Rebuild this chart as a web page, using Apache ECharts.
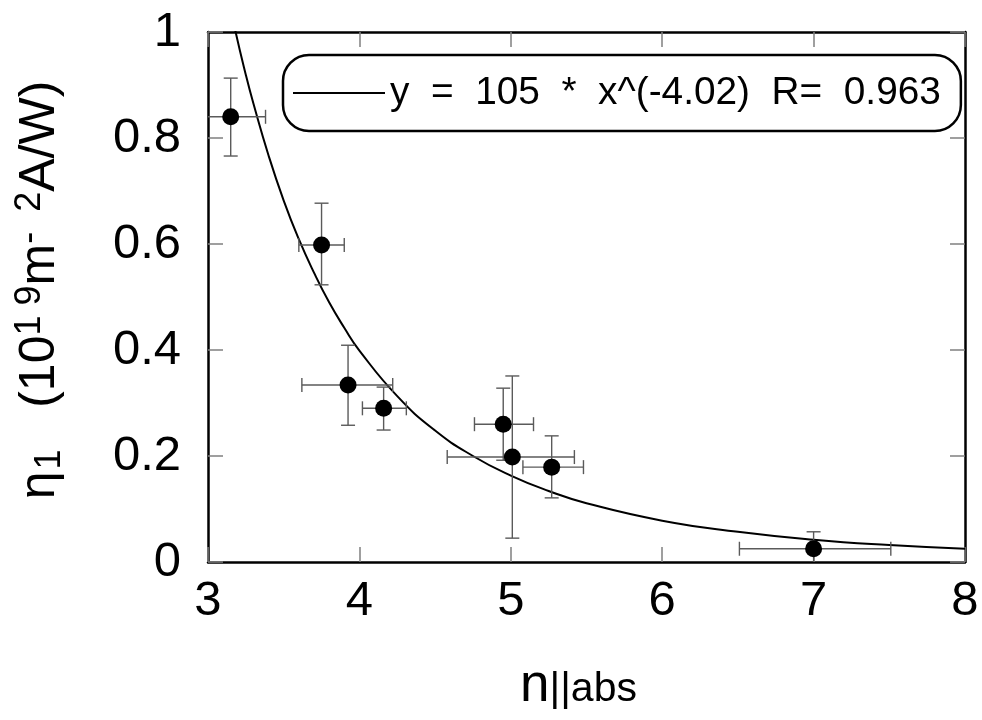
<!DOCTYPE html>
<html>
<head>
<meta charset="utf-8">
<script src="https://cdn.jsdelivr.net/npm/echarts@6/dist/echarts.min.js"></script>
<style>
  html, body { margin: 0; padding: 0; background: #fff; }
  #chart { width: 982px; height: 720px; }
</style>
</head>
<body>
<div id="chart"></div>
<script>
// measured points with error bars
var nAbs  = [3.15, 3.75, 3.925, 4.16, 4.95, 5.01, 5.27, 7.00];
var eta1  = [0.840, 0.598, 0.334, 0.290, 0.260, 0.198, 0.179, 0.025];
var xLow  = [2.92, 3.60, 3.62, 4.02, 4.76, 4.58, 5.08, 6.51];
var xHigh = [3.38, 3.90, 4.22, 4.31, 5.15, 5.42, 5.48, 7.51];
var yLow  = [0.766, 0.523, 0.258, 0.249, 0.192, 0.045, 0.121, -0.010];
var yHigh = [0.913, 0.677, 0.409, 0.330, 0.328, 0.351, 0.238, 0.057];

// fitted curve
var fitX = [3.10, 3.18, 3.25, 3.30, 3.40, 3.50, 3.60, 3.70, 3.80, 3.90, 4.00, 4.25, 4.50, 4.75, 5.00, 5.25, 5.50, 6.00, 6.50, 7.00, 7.50, 8.00];
var fitY = [1.110, 1.003, 0.919, 0.865, 0.767, 0.682, 0.609, 0.546, 0.490, 0.442, 0.399, 0.313, 0.248, 0.200, 0.163, 0.134, 0.111, 0.078, 0.057, 0.042, 0.032, 0.025];

var fitName = 'y  =  105  *  x^(-4.02)  R=  0.963';
var xTicks = [3, 4, 5, 6, 7, 8];
var yTicks = [0, 0.2, 0.4, 0.6, 0.8, 1];

var font = 'Liberation Sans';
var tickGrey = '#808080';

var fitData = fitX.map(function(x, i) { return [x, fitY[i]]; });
var pointData = nAbs.map(function(x, i) { return [x, eta1[i]]; });
var errData = nAbs.map(function(x, i) {
    return [x, eta1[i], xLow[i], xHigh[i], yLow[i], yHigh[i]];
});

function renderErr(params, api) {
    var c = api.coord([api.value(0), api.value(1)]);
    var l = api.coord([api.value(2), api.value(1)]);
    var r = api.coord([api.value(3), api.value(1)]);
    var b = api.coord([api.value(0), api.value(4)]);
    var t = api.coord([api.value(0), api.value(5)]);
    var cap = 7;
    var style = { stroke: '#5a5a5a', lineWidth: 1.4 };
    var seg = function(x1, y1, x2, y2) {
        return { type: 'line', shape: { x1: x1, y1: y1, x2: x2, y2: y2 }, style: style };
    };
    return {
        type: 'group',
        children: [
            seg(l[0], c[1], r[0], c[1]),
            seg(l[0], c[1] - cap, l[0], c[1] + cap),
            seg(r[0], c[1] - cap, r[0], c[1] + cap),
            seg(c[0], b[1], c[0], t[1]),
            seg(c[0] - cap, b[1], c[0] + cap, b[1]),
            seg(c[0] - cap, t[1], c[0] + cap, t[1])
        ]
    };
}

function xAxisCfg(pos, labels) {
    return {
        type: 'value', position: pos, min: xTicks[0], max: xTicks[xTicks.length - 1], interval: 1,
        axisLine: { show: true, onZero: false, lineStyle: { color: '#000', width: 2.5 } },
        axisTick: { show: true, inside: true, length: 15, lineStyle: { color: tickGrey, width: 1.5 } },
        axisLabel: { show: labels, color: '#000', fontSize: 49, fontFamily: font, margin: 15 },
        splitLine: { show: false }
    };
}

function yAxisCfg(pos, labels) {
    return {
        type: 'value', position: pos, min: yTicks[0], max: yTicks[yTicks.length - 1], interval: 0.2,
        axisLine: { show: true, onZero: false, lineStyle: { color: '#000', width: 2.5 } },
        axisTick: { show: true, inside: true, length: 15, lineStyle: { color: tickGrey, width: 1.5 } },
        axisLabel: { show: labels, color: '#000', fontSize: 49, fontFamily: font, margin: 27 },
        splitLine: { show: false }
    };
}

var xBottom = xAxisCfg('bottom', true);
xBottom.name = '{n|n}{s|||abs}';
xBottom.nameLocation = 'middle';
xBottom.nameGap = 98;
xBottom.nameTextStyle = {
    color: '#000', fontFamily: font, padding: [0, 16, 0, 0],
    rich: {
        n: { fontSize: 53, fontFamily: font, color: '#000', verticalAlign: 'top', lineHeight: 50 },
        s: { fontSize: 41, fontFamily: font, color: '#000', verticalAlign: 'bottom', lineHeight: 40, padding: [26, 0, 0, 0] }
    }
};

var yLeft = yAxisCfg('left', true);
yLeft.name = '{a|η}{sub|1}{a|   (10}{sup|1 9}{a|m}{sup|-  2}{a|A/W)}';
yLeft.nameLocation = 'middle';
yLeft.nameGap = 140;
yLeft.nameTextStyle = {
    color: '#000', fontFamily: font, padding: [0, 0, 0, 14],
    rich: {
        a: { fontSize: 50, fontFamily: font, color: '#000', lineHeight: 56 },
        sub: { fontSize: 36, fontFamily: font, color: '#000', verticalAlign: 'bottom', lineHeight: 36, padding: [18, 0, 0, 2] },
        sup: { fontSize: 36, fontFamily: font, color: '#000', verticalAlign: 'top', lineHeight: 36, padding: [0, 0, 14, 0] }
    }
};

var chart = echarts.init(document.getElementById('chart'));
chart.setOption({
    animation: false,
    backgroundColor: '#fff',
    grid: { left: 208, right: 17, top: 32, bottom: 158 },
    legend: {
        data: [{ name: fitName, icon: 'rect', itemStyle: { color: '#000' } }],
        left: 283, top: 55,
        orient: 'horizontal',
        itemWidth: 92, itemHeight: 2, itemGap: 10,
        padding: [16, 20, 16, 10],
        borderColor: '#000', borderWidth: 2.5, borderRadius: 26,
        backgroundColor: '#fff',
        textStyle: { fontSize: 38.8, fontFamily: font, color: '#000', lineHeight: 44 }
    },
    xAxis: [xBottom, xAxisCfg('top', false)],
    yAxis: [yLeft, yAxisCfg('right', false)],
    series: [
        {
            name: fitName, type: 'line', data: fitData, smooth: true, symbol: 'none',
            lineStyle: { color: '#000', width: 2 }, itemStyle: { color: '#000' }, z: 2
        },
        {
            type: 'custom', data: errData, renderItem: renderErr, clip: true, z: 3
        },
        {
            type: 'scatter', data: pointData, symbolSize: 17, itemStyle: { color: '#000', opacity: 1 }, z: 4
        }
    ]
});
</script>
</body>
</html>
